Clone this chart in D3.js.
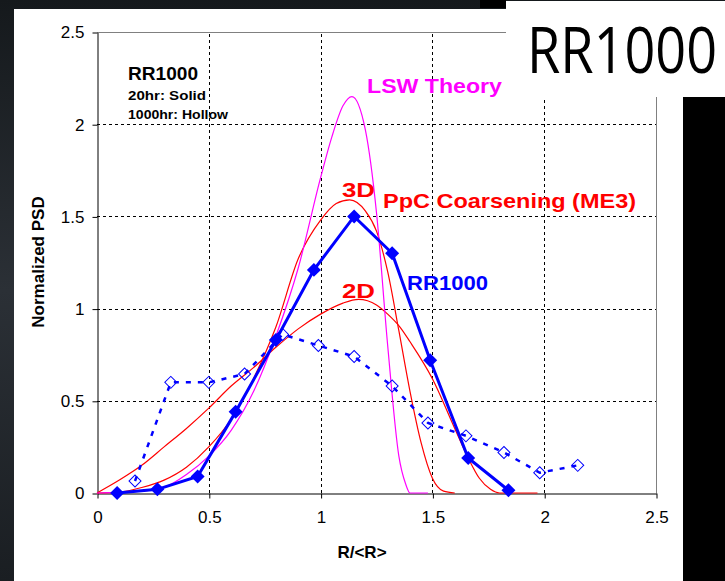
<!DOCTYPE html>
<html>
<head>
<meta charset="utf-8">
<script src="https://cdn.jsdelivr.net/npm/d3@7"></script>
<style>
  body { margin: 0; background: #1e2226; }
  svg { display: block; }
</style>
</head>
<body>
<svg id="chart" width="725" height="581"></svg>
<script>
const solid20hr = [[0.09,0.0],[0.27,0.02],[0.45,0.09],[0.62,0.44],[0.80,0.83],[0.97,1.21],
  [1.15,1.50],[1.32,1.30],[1.49,0.72],[1.66,0.19],[1.84,0.015]];
const hollow1000hr = [[0.17,0.065],[0.33,0.60],[0.50,0.60],[0.66,0.645],[0.83,0.86],[0.99,0.80],
  [1.15,0.74],[1.32,0.58],[1.48,0.38],[1.65,0.31],[1.82,0.22],[1.98,0.11],[2.15,0.15]];
// theory curves
const lswTheory = [[0,0],[0.2,0.01],[0.3,0.03],[0.4,0.1],[0.5,0.2],[0.6,0.34],[0.7,0.55],[0.8,0.85],
  [0.9,1.22],[1.0,1.71],[1.05,1.93],[1.1,2.1],[1.14,2.15],[1.2,1.97],[1.25,1.52],[1.3,0.8],
  [1.35,0.2],[1.38,0.05],[1.40,0],[1.48,0]];
const ppc3D = [[0,0],[0.1,0.005],[0.2,0.03],[0.3,0.07],[0.4,0.14],[0.5,0.25],[0.6,0.4],[0.7,0.62],
  [0.8,0.9],[0.9,1.27],[1.0,1.48],[1.07,1.57],[1.13,1.59],[1.2,1.53],[1.25,1.42],[1.3,1.2],
  [1.35,0.88],[1.4,0.55],[1.45,0.27],[1.5,0.08],[1.55,0.01],[1.6,0]];
const ppc2D = [[0,0],[0.1,0.07],[0.2,0.15],[0.3,0.25],[0.4,0.35],[0.5,0.46],[0.6,0.58],[0.7,0.68],
  [0.8,0.79],[0.9,0.89],[1.0,0.97],[1.1,1.03],[1.17,1.05],[1.25,1.02],[1.3,0.97],[1.355,0.9],
  [1.4,0.82],[1.5,0.62],[1.6,0.35],[1.66,0.19],[1.71,0.08],[1.76,0.02],[1.8,0],[1.97,0]];
const tickVals = [0, 0.5, 1, 1.5, 2, 2.5];

const svg = d3.select("#chart");
const x = d3.scaleLinear().domain([0, 2.5]).range([97, 656]);
const y = d3.scaleLinear().domain([0, 2.5]).range([493, 32]);

// backdrop: dark slide, white panel, black strip on the right
const defs = svg.append("defs");
const bg = defs.append("linearGradient").attr("id", "bg").attr("x1", 0).attr("x2", 0).attr("y1", 0).attr("y2", 1);
bg.append("stop").attr("offset", 0).attr("stop-color", "#15191c");
bg.append("stop").attr("offset", 0.5).attr("stop-color", "#2b3036");
bg.append("stop").attr("offset", 1).attr("stop-color", "#1a1e22");
svg.append("rect").attr("width", 725).attr("height", 581).attr("fill", "url(#bg)");
svg.append("rect").attr("x", 14).attr("y", 9).attr("width", 669).attr("height", 572).attr("fill", "#fff");
svg.append("rect").attr("x", 683).attr("y", 97).attr("width", 42).attr("height", 484).attr("fill", "#000");

// grid
const grid = svg.append("g").attr("stroke", "#000").attr("stroke-width", 1).attr("stroke-dasharray", "3,3");
grid.selectAll(".gy").data(tickVals.slice(1, 5)).enter().append("line")
    .attr("x1", x(0)).attr("x2", x(2.5))
    .attr("y1", d => Math.round(y(d)) + 0.5).attr("y2", d => Math.round(y(d)) + 0.5);
grid.selectAll(".gx").data(tickVals.slice(1, 5)).enter().append("line")
    .attr("y1", y(0)).attr("y2", y(2.5))
    .attr("x1", d => Math.round(x(d)) + 0.5).attr("x2", d => Math.round(x(d)) + 0.5);

// plot frame (top and right in grey)
svg.append("line").attr("x1", x(0)).attr("x2", x(2.5)).attr("y1", y(2.5) + 0.5).attr("y2", y(2.5) + 0.5)
    .attr("stroke", "#808080");
svg.append("line").attr("x1", x(2.5) + 0.5).attr("x2", x(2.5) + 0.5).attr("y1", y(0)).attr("y2", y(2.5))
    .attr("stroke", "#808080");

// axes
const fmt = d3.format("");
const yAxis = svg.append("g").attr("transform", "translate(97.5,0.5)")
    .call(d3.axisLeft(y).tickValues(tickVals).tickFormat(fmt).tickSize(5).tickPadding(8).tickSizeOuter(0));
const xAxis = svg.append("g").attr("transform", "translate(0.5,493.5)")
    .call(d3.axisBottom(x).tickValues(tickVals).tickFormat(fmt).tickSize(5).tickPadding(12).tickSizeOuter(0));
[yAxis, xAxis].forEach(g => {
  g.selectAll("path, line").attr("stroke", "#000");
  g.selectAll("text").attr("font-family", "Liberation Sans, Arial, sans-serif")
      .attr("font-size", 17).attr("fill", "#000");
});

// theory curves
const smooth = d3.line().x(d => x(d[0])).y(d => y(d[1])).curve(d3.curveMonotoneX);
svg.append("path").attr("d", smooth(ppc2D)).attr("fill", "none").attr("stroke", "#ff0000").attr("stroke-width", 1.2);
svg.append("path").attr("d", smooth(ppc3D)).attr("fill", "none").attr("stroke", "#ff0000").attr("stroke-width", 1.2);
svg.append("path").attr("d", smooth(lswTheory)).attr("fill", "none").attr("stroke", "#ff00ff").attr("stroke-width", 1.2);

// measured series
const straight = d3.line().x(d => x(d[0])).y(d => y(d[1]));
const diamond = s => d3.symbol(d3.symbolSquare, s);

svg.append("path").attr("d", straight(hollow1000hr)).attr("fill", "none")
    .attr("stroke", "#0000ff").attr("stroke-width", 2.5).attr("stroke-dasharray", "5,7");
svg.selectAll(".hollow").data(hollow1000hr).enter().append("path")
    .attr("d", diamond(72))
    .attr("transform", d => `translate(${x(d[0])},${y(d[1])}) rotate(45)`)
    .attr("fill", "none").attr("stroke", "#0000ff").attr("stroke-width", 1);

svg.append("path").attr("d", straight(solid20hr)).attr("fill", "none")
    .attr("stroke", "#0000ff").attr("stroke-width", 3);
svg.selectAll(".solid").data(solid20hr).enter().append("path")
    .attr("d", diamond(98))
    .attr("transform", d => `translate(${x(d[0])},${y(d[1])}) rotate(45)`)
    .attr("fill", "#0000ff");

// axis titles
const bold = "Liberation Sans, Arial, sans-serif";
svg.append("text").attr("x", 362).attr("y", 558).attr("text-anchor", "middle")
    .attr("font-family", bold).attr("font-weight", "bold").attr("font-size", 17).text("R/<R>");
svg.append("text").attr("transform", "translate(44,262) rotate(-90)").attr("text-anchor", "middle")
    .attr("font-family", bold).attr("font-weight", "bold").attr("font-size", 17).text("Normalized PSD");

// annotations
const note = (tx, ty, txt, size, color, len) => {
  const t = svg.append("text").attr("x", tx).attr("y", ty)
      .attr("font-family", bold).attr("font-weight", "bold").attr("font-size", size)
      .attr("fill", color).text(txt);
  if (len) t.attr("textLength", len).attr("lengthAdjust", "spacingAndGlyphs");
};
note(128, 80, "RR1000", 18, "#000", 70);
note(128, 100, "20hr: Solid", 13, "#000", 78);
note(128, 119, "1000hr: Hollow", 13, "#000", 100);
note(367, 93, "LSW Theory", 21, "#ff00ff", 135);
note(342, 197, "3D", 21, "#ff0000", 33);
note(383, 208, "PpC Coarsening (ME3)", 21, "#ff0000", 253);
note(342, 298, "2D", 21, "#ff0000", 33);
note(407, 290, "RR1000", 21, "#0000ff", 81);

// slide title box
svg.append("rect").attr("x", 480).attr("y", 0).attr("width", 26).attr("height", 8).attr("fill", "#000");
svg.append("rect").attr("x", 506).attr("y", 1).attr("width", 219).attr("height", 96).attr("fill", "#fff");
svg.append("text").attr("transform", "translate(527,73) scale(1,1.17)")
    .attr("font-family", "Open Sans, Noto Sans, sans-serif").attr("font-weight", 400)
    .attr("font-size", 54).attr("fill", "#000").text("RR1000");
</script>
</body>
</html>
